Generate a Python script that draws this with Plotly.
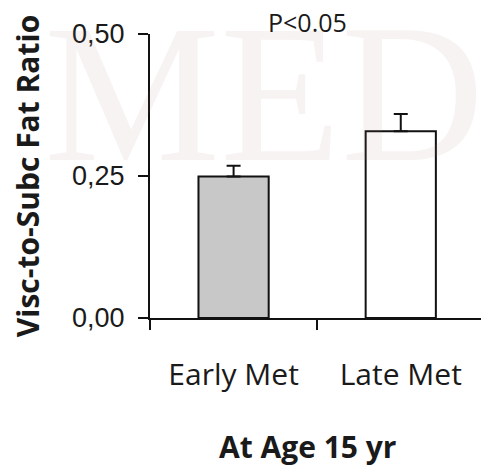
import plotly.graph_objects as go

categories = ["Early Met", "Late Met"]
ratio_values = [0.249, 0.329]
error_plus = [0.019, 0.030]
bar_colors = ["#c8c8c8", "#ffffff"]
y_tick_values = [0.0, 0.25, 0.5]
divider_ticks = [-0.5, 0.5]

x_pos = list(range(len(categories)))

fig = go.Figure()
fig.add_trace(go.Bar(
    x=x_pos,
    y=ratio_values,
    width=0.42,
    marker=dict(color=bar_colors, line=dict(color="#111111", width=2)),
    error_y=dict(type="data", array=error_plus, arrayminus=[0] * len(error_plus),
                 symmetric=False, color="#111111", thickness=2, width=7),
    showlegend=False,
    hoverinfo="skip",
))

fig.update_layout(
    width=481, height=467,
    margin=dict(l=150, r=0, t=34, b=149, pad=0, autoexpand=False),
    paper_bgcolor="white", plot_bgcolor="white",
    separators=",.",
    font=dict(family="Open Sans", color="#1a1a1a"),
    xaxis=dict(
        range=[-0.5, 1.48],
        showline=True, linecolor="#111111", linewidth=2,
        showgrid=False, zeroline=False,
        tickmode="array", tickvals=x_pos, ticktext=categories,
        ticks="", ticklabelstandoff=29,
        tickfont=dict(family="Open Sans", size=30, color="#1a1a1a"),
        minor=dict(tickmode="array", tickvals=divider_ticks, ticks="outside",
                   ticklen=10, tickwidth=2, tickcolor="#111111", showgrid=False),
    ),
    yaxis=dict(
        range=[0, 0.5],
        showline=True, linecolor="#111111", linewidth=2,
        showgrid=False, zeroline=False,
        tickmode="array", tickvals=y_tick_values, tickformat=".2f",
        ticks="outside", ticklen=10, tickwidth=2, tickcolor="#111111",
        ticklabelstandoff=8,
        tickfont=dict(family="Liberation Sans", size=27, color="#1a1a1a"),
        title=dict(text="<b>Visc-to-Subc Fat Ratio</b>", standoff=24,
                   font=dict(family="Open Sans", size=30, color="#1a1a1a")),
    ),
    annotations=[
        dict(text="MED", xref="paper", yref="paper", x=0.345, y=0.79,
             xanchor="center", yanchor="middle", showarrow=False,
             font=dict(family="Liberation Serif", size=198, color="rgba(180,120,120,0.09)")),
        dict(text="P<0.05", xref="paper", yref="paper", x=0.477, y=1.042,
             xanchor="center", yanchor="middle", showarrow=False, borderpad=0,
             font=dict(family="Open Sans", size=25, color="#1a1a1a")),
        dict(text="<b>At Age 15 yr</b>", xref="paper", yref="paper", x=0.477, y=-0.452,
             xanchor="center", yanchor="middle", showarrow=False, borderpad=0,
             font=dict(family="Open Sans", size=30, color="#1a1a1a")),
    ],
)

fig.write_html("out.html", config={"displayModeBar": False},
               post_script="document.body.style.margin='0px';")
